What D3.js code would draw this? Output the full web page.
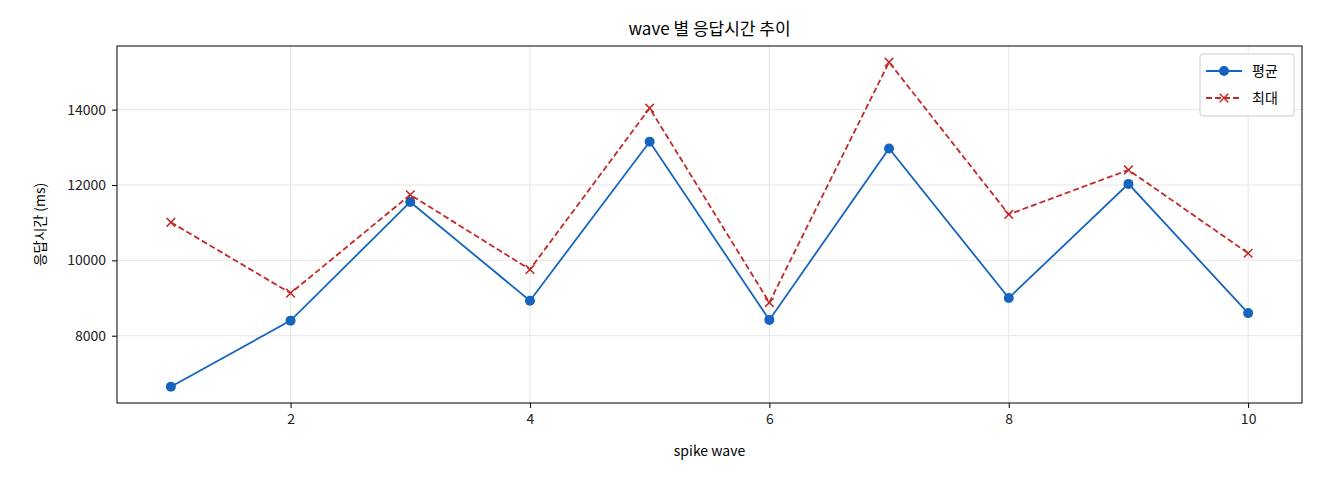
<!DOCTYPE html>
<html><head><meta charset="utf-8">
<script src="https://cdn.jsdelivr.net/npm/d3@7"></script>
<style>body{margin:0;background:#fff}text{font-family:"Noto Sans CJK KR","DejaVu Sans",sans-serif}</style>
</head><body><div id="chart"></div>
<script>
const waves = [1,2,3,4,5,6,7,8,9,10];
const avgMs = [6645,8400,11550,8930,13150,8420,12970,9000,12030,8600];
const maxMs = [11010,9130,11740,9760,14040,8880,15260,11220,12400,10190];
const xTicks = [2,4,6,8,10];
const yTicks = [8000,10000,12000,14000];

const W = 1320, H = 480;
const m = {left:117, right:18, top:46, bottom:77};
const svg = d3.select("#chart").append("svg").attr("width",W).attr("height",H);
const x = d3.scaleLinear().domain([0.55,10.45]).range([m.left, W-m.right]);
const y = d3.scaleLinear().domain([6214,15690]).range([H-m.bottom, m.top]);

// grid
svg.selectAll(".gx").data(xTicks).enter().append("line")
  .attr("x1",d=>x(d)).attr("x2",d=>x(d)).attr("y1",m.top).attr("y2",H-m.bottom)
  .attr("stroke","#e6e6e6");
svg.selectAll(".gy").data(yTicks).enter().append("line")
  .attr("y1",d=>y(d)).attr("y2",d=>y(d)).attr("x1",m.left).attr("x2",W-m.right)
  .attr("stroke","#e6e6e6");

const gx = svg.append("g").attr("transform",`translate(0,${H-m.bottom})`)
  .call(d3.axisBottom(x).tickValues(xTicks).tickFormat(d3.format("d")).tickSizeOuter(0).tickSize(5).tickPadding(6));
const gy = svg.append("g").attr("transform",`translate(${m.left},0)`)
  .call(d3.axisLeft(y).tickValues(yTicks).tickFormat(d3.format("d")).tickSizeOuter(0).tickSize(5).tickPadding(6));
[gx,gy].forEach(g=>{g.select(".domain").remove();g.selectAll("line").attr("stroke","#000");g.selectAll("text").attr("font-size",14).attr("fill","#222");});

svg.append("rect").attr("x",m.left).attr("y",m.top).attr("width",W-m.left-m.right)
  .attr("height",H-m.top-m.bottom).attr("fill","none").attr("stroke","#000");

const blue = "#1565c0", red = "#c62828";
const line = d3.line().x((d,i)=>x(waves[i])).y(d=>y(d));
svg.append("path").datum(maxMs).attr("d",line).attr("fill","none").attr("stroke",red)
  .attr("stroke-width",1.8).attr("stroke-dasharray","6,3");
svg.append("path").datum(avgMs).attr("d",line).attr("fill","none").attr("stroke",blue).attr("stroke-width",1.8);
svg.selectAll(".pt").data(avgMs).enter().append("circle")
  .attr("cx",(d,i)=>x(waves[i])).attr("cy",d=>y(d)).attr("r",5).attr("fill",blue);
const cross = d3.symbol().type(d3.symbolX).size(50);
svg.selectAll(".xm").data(maxMs).enter().append("path")
  .attr("d",cross).attr("transform",(d,i)=>`translate(${x(waves[i])},${y(d)})`)
  .attr("fill","none").attr("stroke",red).attr("stroke-width",1.5);

svg.append("text").attr("x",(m.left+W-m.right)/2).attr("y",35).attr("text-anchor","middle")
  .attr("font-size",17).text("wave 별 응답시간 추이");
svg.append("text").attr("x",(m.left+W-m.right)/2).attr("y",456).attr("text-anchor","middle")
  .attr("font-size",14).text("spike wave");
svg.append("text").attr("transform",`translate(45,${(m.top+H-m.bottom)/2}) rotate(-90)`)
  .attr("text-anchor","middle").attr("font-size",14).text("응답시간 (ms)");

// legend
const lg = svg.append("g").attr("transform","translate(1200,54)");
lg.append("rect").attr("width",94).attr("height",62).attr("rx",3).attr("fill","#fff").attr("stroke","#ccc");
lg.append("line").attr("x1",6).attr("x2",42).attr("y1",17).attr("y2",17).attr("stroke",blue).attr("stroke-width",1.8);
lg.append("circle").attr("cx",24).attr("cy",17).attr("r",5).attr("fill",blue);
lg.append("text").attr("x",52).attr("y",22).attr("font-size",14).text("평균");
lg.append("line").attr("x1",6).attr("x2",42).attr("y1",44).attr("y2",44).attr("stroke",red).attr("stroke-width",1.8).attr("stroke-dasharray","6,3");
lg.append("path").attr("d",cross).attr("transform","translate(24,44)").attr("fill","none").attr("stroke",red).attr("stroke-width",1.5);
lg.append("text").attr("x",52).attr("y",49).attr("font-size",14).text("최대");
</script></body></html>
